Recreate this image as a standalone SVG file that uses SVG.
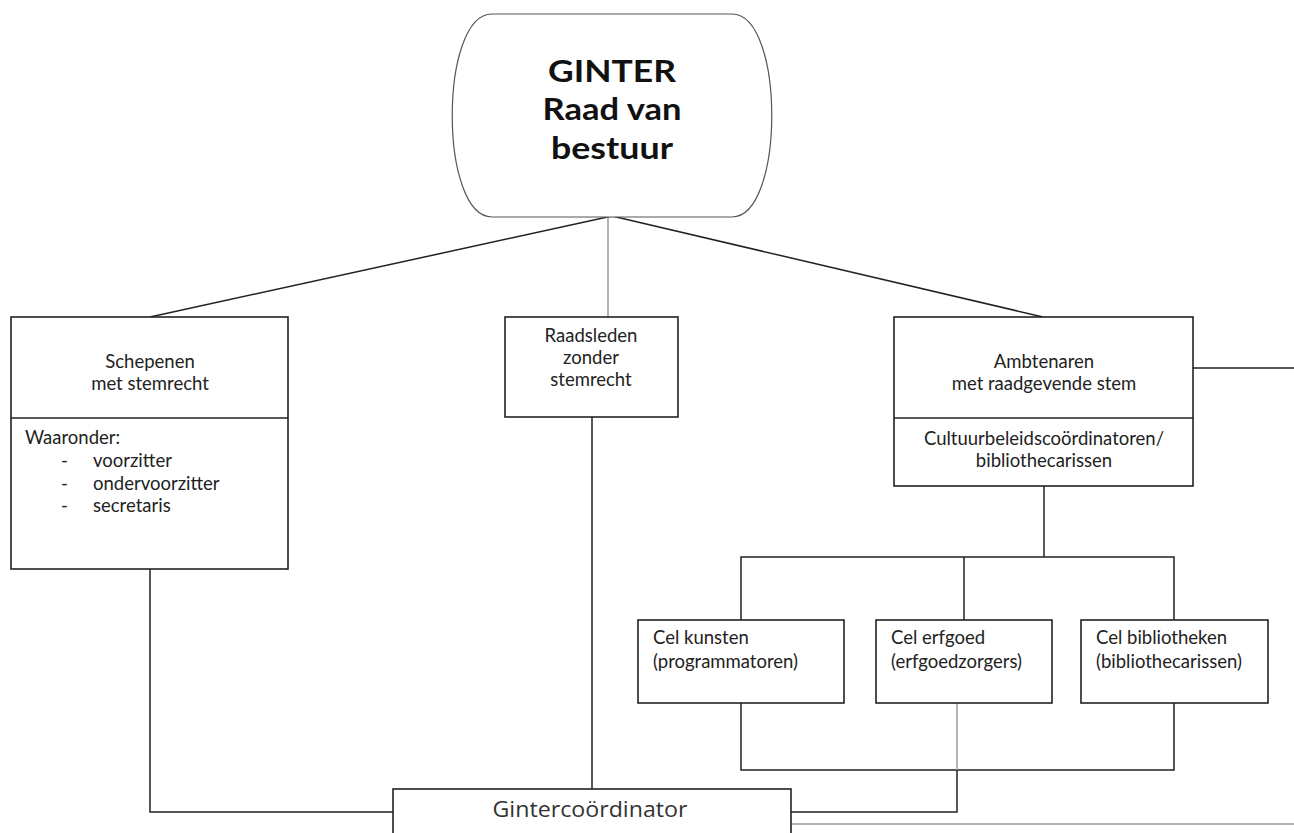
<svg xmlns="http://www.w3.org/2000/svg" width="1294" height="833" viewBox="0 0 1294 833">
<style>
.box{fill:#fff;stroke:#222;stroke-width:1.6}
.ln{fill:none;stroke:#222;stroke-width:1.5}
.gl{fill:none;stroke:#9a9a9a;stroke-width:1.5}
.t{font-family:Lato,"Liberation Sans",sans-serif;font-size:18.5px;fill:#222}
.c{text-anchor:middle}
.h{font-family:Lato,"Liberation Sans",sans-serif;font-weight:bold;font-size:30px;fill:#111;text-anchor:middle}
.g{font-family:"Open Sans","DejaVu Sans",sans-serif;font-size:21.5px;fill:#333;text-anchor:middle}
</style>
<rect width="1294" height="833" fill="#fff"/>
<g id="connectors">
<line class="ln" x1="612" y1="216" x2="150" y2="317" stroke-width="1.2"/>
<line class="ln" x1="612" y1="216" x2="1043" y2="317" stroke-width="1.2"/>
<line class="gl" x1="608" y1="216" x2="608" y2="317"/>
<polyline class="ln" points="150,569 150,812 393,812"/>
<line class="ln" x1="592" y1="417" x2="592" y2="789"/>
<line class="ln" x1="1193" y1="368" x2="1294" y2="368"/>
<line class="ln" x1="1044" y1="486" x2="1044" y2="557"/>
<polyline class="ln" points="741,620 741,557 1174,557 1174,620"/>
<line class="ln" x1="964" y1="557" x2="964" y2="620"/>
<polyline class="ln" points="741,703 741,770 1174,770 1174,703"/>
<line class="gl" x1="957" y1="703" x2="957" y2="770"/>
<polyline class="ln" points="957,770 957,812 791,812"/>
<line class="gl" x1="791" y1="824" x2="1294" y2="824"/>
</g>
<g id="raad">
<path d="M492,14 L732,14 C785,14 785,217 732,217 L492,217 C439,217 439,14 492,14 Z" fill="#fff" stroke="#555" stroke-width="1.2"/>
<text class="h" x="612" y="82" textLength="128" lengthAdjust="spacingAndGlyphs">GINTER</text>
<text class="h" x="612" y="120" textLength="139" lengthAdjust="spacingAndGlyphs">Raad van</text>
<text class="h" x="612" y="159" textLength="122" lengthAdjust="spacingAndGlyphs">bestuur</text>
</g>
<g id="schepenen">
<rect class="box" x="11" y="317" width="277" height="252"/>
<line class="ln" x1="11" y1="418" x2="288" y2="418"/>
<text class="t c" x="150" y="368">Schepenen</text>
<text class="t c" x="150" y="390">met stemrecht</text>
<text class="t" x="25" y="444">Waaronder:</text>
<text class="t" x="61" y="467">-</text><text class="t" x="93" y="467">voorzitter</text>
<text class="t" x="61" y="490">-</text><text class="t" x="93" y="490">ondervoorzitter</text>
<text class="t" x="61" y="512">-</text><text class="t" x="93" y="512">secretaris</text>
</g>
<g id="raadsleden">
<rect class="box" x="505" y="317" width="173" height="100"/>
<text class="t c" x="591" y="342">Raadsleden</text>
<text class="t c" x="591" y="364">zonder</text>
<text class="t c" x="591" y="386">stemrecht</text>
</g>
<g id="ambtenaren">
<rect class="box" x="894" y="317" width="299" height="169"/>
<line class="ln" x1="894" y1="418" x2="1193" y2="418"/>
<text class="t c" x="1044" y="368">Ambtenaren</text>
<text class="t c" x="1044" y="390">met raadgevende stem</text>
<text class="t c" x="1044" y="445">Cultuurbeleidscoördinatoren/</text>
<text class="t c" x="1044" y="467">bibliothecarissen</text>
</g>
<g id="kunsten">
<rect class="box" x="638" y="620" width="206" height="83"/>
<text class="t" x="653" y="644">Cel kunsten</text>
<text class="t" x="653" y="668">(programmatoren)</text>
</g>
<g id="erfgoed">
<rect class="box" x="876" y="620" width="176" height="83"/>
<text class="t" x="891" y="644">Cel erfgoed</text>
<text class="t" x="891" y="668">(erfgoedzorgers)</text>
</g>
<g id="bibliotheken">
<rect class="box" x="1081" y="620" width="187" height="83"/>
<text class="t" x="1096" y="644">Cel bibliotheken</text>
<text class="t" x="1096" y="668">(bibliothecarissen)</text>
</g>
<g id="gintercoordinator">
<rect class="box" x="393" y="789" width="398" height="60"/>
<text class="g" x="590" y="817" textLength="195" lengthAdjust="spacingAndGlyphs">Gintercoördinator</text>
</g>
</svg>
